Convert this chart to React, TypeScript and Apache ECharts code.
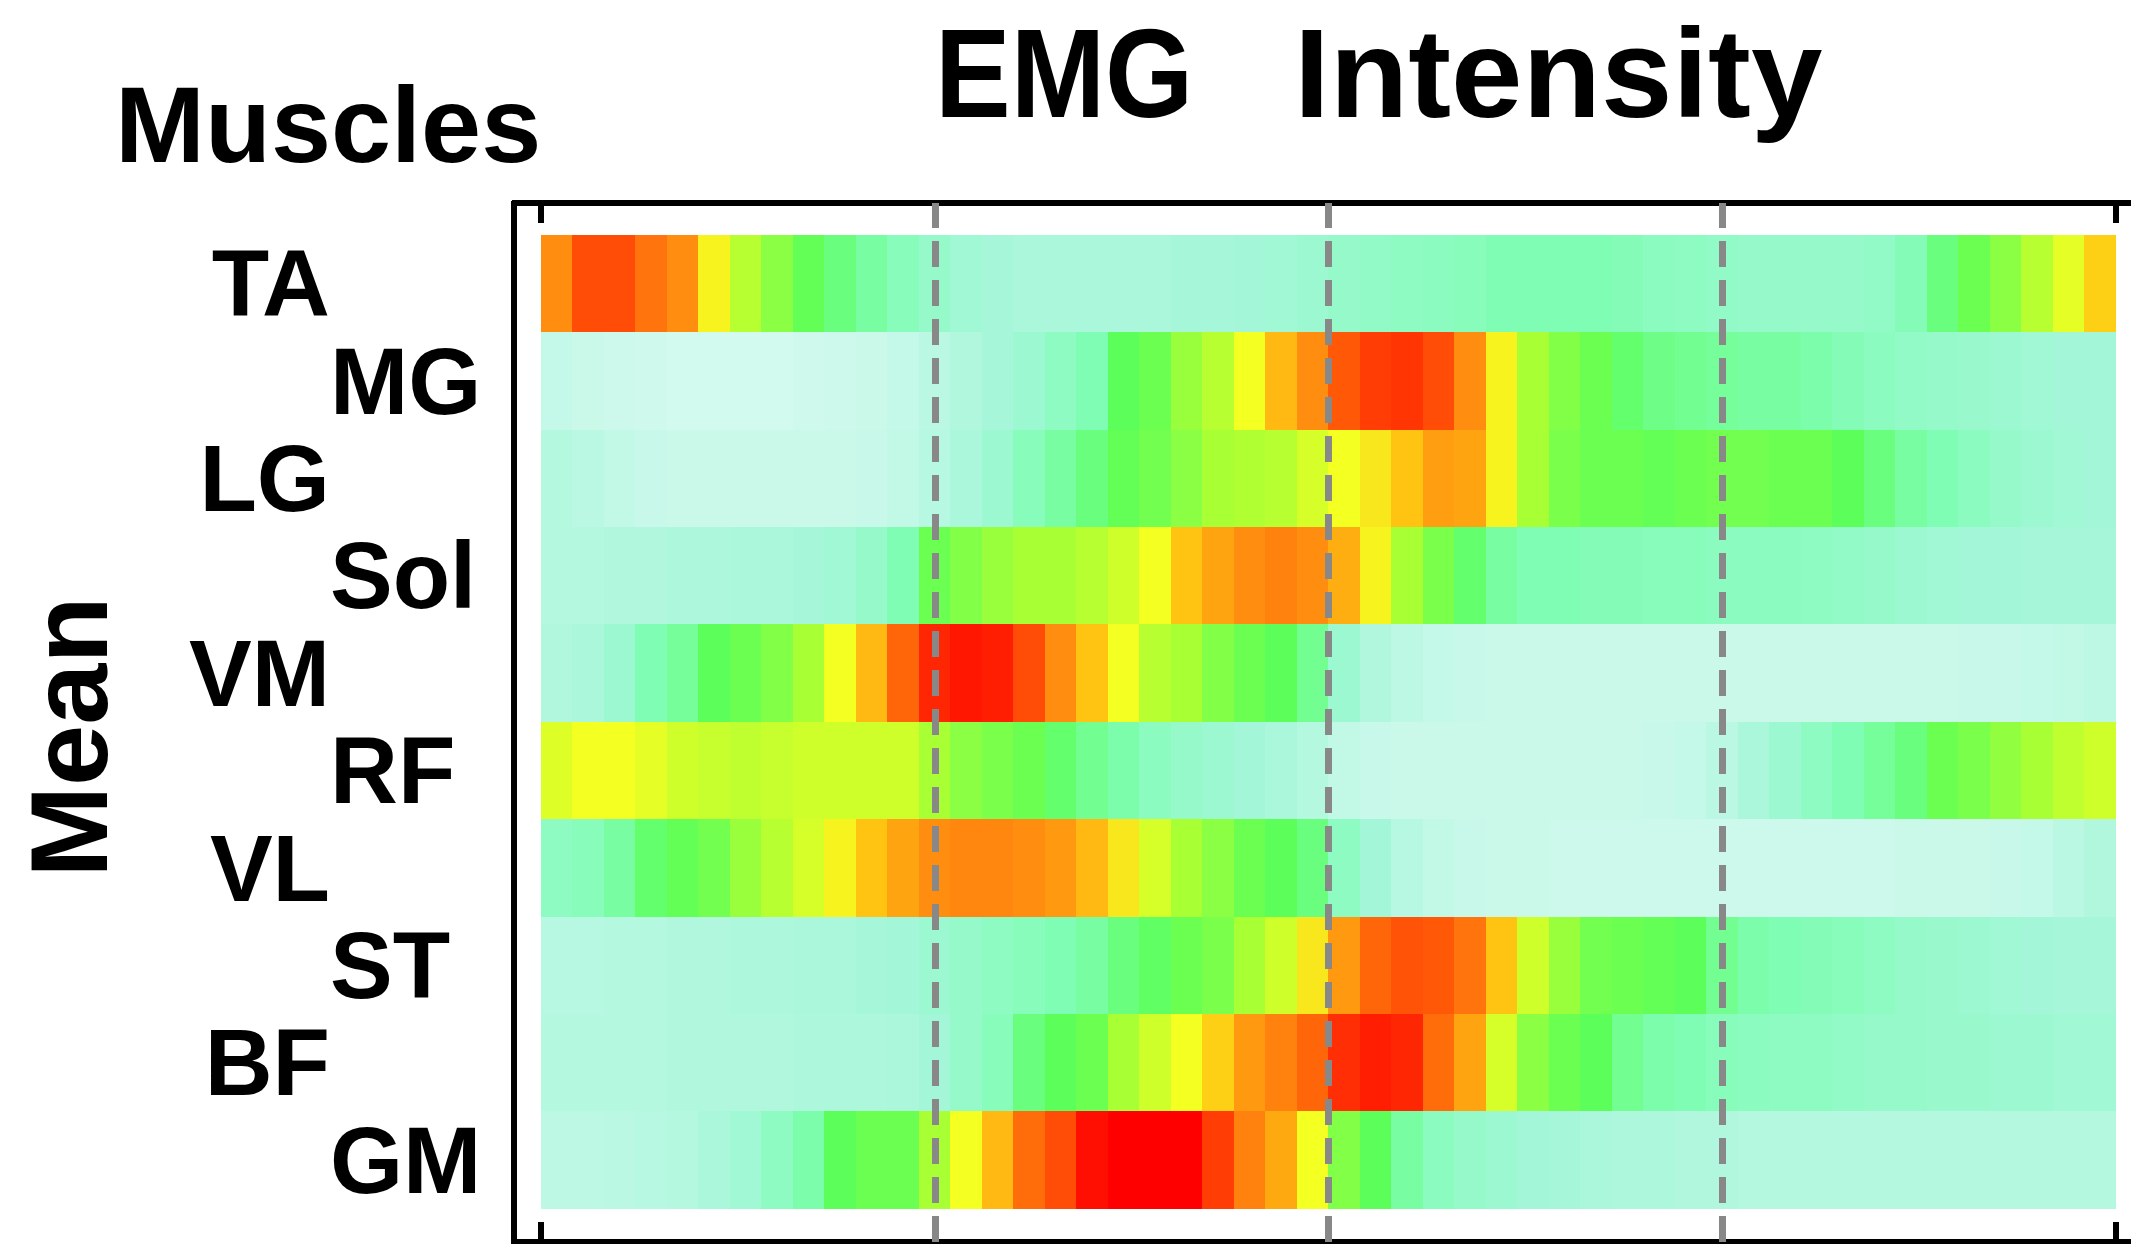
import React, { useEffect, useRef } from "react";
import * as echarts from "echarts";

// ---- data ----
const muscles = ["TA", "MG", "LG", "Sol", "VM", "RF", "VL", "ST", "BF", "GM"];
const cycleTicks = [0, 25, 50, 75, 100];
const phaseLines = [25, 50, 75];
const columnCount = 50;

const ta = [0.80,0.90,0.90,0.84,0.80,0.62,0.52,0.46,0.41,0.36, 0.32,0.28,0.24,0.21,0.19,0.18,0.18,0.18,0.18,0.18, 0.19,0.19,0.20,0.21,0.22,0.24,0.25,0.26,0.27,0.28, 0.30,0.30,0.30,0.30,0.29,0.27,0.26,0.25,0.24,0.24, 0.24,0.24,0.25,0.29,0.36,0.42,0.46,0.52,0.58,0.68];
const mg = [0.10,0.08,0.07,0.06,0.05,0.05,0.05,0.05,0.06,0.07, 0.08,0.10,0.13,0.16,0.19,0.22,0.26,0.30,0.40,0.42, 0.48,0.52,0.60,0.72,0.80,0.88,0.92,0.93,0.90,0.80, 0.62,0.50,0.45,0.42,0.38,0.35,0.34,0.33,0.32,0.32, 0.31,0.29,0.27,0.25,0.24,0.23,0.22,0.21,0.20,0.20];
const lg = [0.15,0.13,0.11,0.09,0.08,0.08,0.08,0.08,0.08,0.08, 0.09,0.11,0.14,0.18,0.22,0.28,0.32,0.36,0.41,0.43, 0.46,0.50,0.51,0.52,0.56,0.60,0.64,0.70,0.77,0.76, 0.62,0.50,0.44,0.42,0.42,0.41,0.42,0.43,0.43,0.42, 0.42,0.40,0.36,0.32,0.30,0.27,0.24,0.22,0.21,0.20];
const sol = [0.15,0.15,0.16,0.16,0.17,0.17,0.18,0.18,0.19,0.21, 0.24,0.30,0.42,0.45,0.48,0.50,0.50,0.52,0.55,0.60, 0.70,0.76,0.80,0.82,0.80,0.74,0.62,0.50,0.44,0.38, 0.32,0.30,0.30,0.29,0.29,0.28,0.28,0.27,0.27,0.27, 0.26,0.25,0.24,0.22,0.21,0.20,0.20,0.19,0.19,0.19];
const vm = [0.16,0.18,0.22,0.30,0.33,0.40,0.42,0.45,0.50,0.60, 0.72,0.86,0.95,0.97,0.96,0.90,0.80,0.70,0.60,0.52, 0.50,0.45,0.42,0.40,0.34,0.22,0.16,0.12,0.10,0.09, 0.08,0.08,0.08,0.08,0.08,0.08,0.08,0.08,0.08,0.08, 0.08,0.08,0.08,0.08,0.08,0.09,0.09,0.10,0.11,0.12];
const rf = [0.57,0.60,0.60,0.58,0.55,0.54,0.53,0.54,0.55,0.55, 0.55,0.55,0.50,0.46,0.44,0.42,0.38,0.34,0.31,0.27, 0.24,0.22,0.20,0.18,0.15,0.11,0.09,0.08,0.08,0.08, 0.08,0.08,0.08,0.08,0.08,0.09,0.10,0.13,0.18,0.22, 0.26,0.30,0.33,0.36,0.42,0.44,0.47,0.50,0.53,0.55];
const vl = [0.26,0.28,0.32,0.38,0.41,0.43,0.48,0.52,0.56,0.62, 0.70,0.76,0.80,0.81,0.81,0.80,0.78,0.72,0.64,0.56, 0.50,0.46,0.42,0.40,0.36,0.26,0.20,0.14,0.11,0.09, 0.08,0.08,0.07,0.07,0.07,0.07,0.07,0.07,0.07,0.07, 0.07,0.07,0.07,0.08,0.08,0.08,0.09,0.10,0.13,0.16];
const st = [0.14,0.14,0.15,0.15,0.16,0.16,0.17,0.17,0.18,0.18, 0.19,0.20,0.22,0.24,0.26,0.28,0.30,0.32,0.36,0.39, 0.42,0.44,0.50,0.55,0.64,0.78,0.86,0.89,0.88,0.84, 0.70,0.55,0.48,0.43,0.42,0.41,0.40,0.34,0.31,0.30, 0.29,0.28,0.26,0.24,0.23,0.22,0.21,0.20,0.19,0.19];
const bf = [0.15,0.15,0.15,0.15,0.16,0.16,0.16,0.16,0.17,0.17, 0.17,0.18,0.20,0.24,0.28,0.36,0.40,0.42,0.50,0.55, 0.60,0.68,0.78,0.82,0.86,0.94,0.96,0.95,0.85,0.76, 0.56,0.46,0.42,0.40,0.34,0.31,0.30,0.28,0.27,0.26, 0.26,0.25,0.24,0.24,0.23,0.23,0.22,0.22,0.21,0.21];
const gm = [0.12,0.12,0.13,0.14,0.15,0.18,0.21,0.26,0.31,0.40, 0.42,0.42,0.50,0.60,0.72,0.85,0.90,0.98,1.00,1.00, 1.00,0.92,0.82,0.75,0.60,0.45,0.40,0.32,0.27,0.24, 0.22,0.20,0.19,0.18,0.17,0.17,0.16,0.16,0.15,0.15, 0.15,0.15,0.15,0.15,0.15,0.15,0.15,0.15,0.15,0.15];

const scaleColors = [
  "#e0fbf4", "#c4f8e8", "#a3f7d8", "#80fdb4", "#5cff5a", "#a8ff34",
  "#f4ff22", "#ffc412", "#ff8e10", "#ff4c06", "#ff0000",
];

// ---- layout (pixels) ----
const PAGE = { width: 2131, height: 1244 };
const PLOT = { left: 541, top: 235, width: 1575, height: 974 };
const FRAME = { left: 514, top: 203, right: 2131, bottom: 1242 };
const FONT = '"Liberation Sans", Arial, Helvetica, sans-serif';

export default function App() {
  const ref = useRef<HTMLDivElement>(null);

  useEffect(() => {
    document.body.style.margin = "0";
    const el = ref.current!;
    const chart = echarts.init(el, null, { renderer: "svg" });

    const rows = [ta, mg, lg, sol, vm, rf, vl, st, bf, gm];
    const data: number[][] = [];
    rows.forEach((row, y) => row.forEach((v, x) => data.push([x, y, v])));
    const columns = Array.from({ length: columnCount }, (_, i) => String(i));

    const span = cycleTicks[cycleTicks.length - 1] - cycleTicks[0];
    const pxPerUnit = PLOT.width / span;
    const fMin = cycleTicks[0] - (PLOT.left - FRAME.left) / pxPerUnit;
    const fMax = cycleTicks[0] + (FRAME.right - PLOT.left) / pxPerUnit;

    const tickAxis = (position: string, offset: number) => ({
      type: "value",
      gridIndex: 0,
      position,
      offset,
      min: cycleTicks[0],
      max: cycleTicks[cycleTicks.length - 1],
      interval: cycleTicks[1] - cycleTicks[0],
      axisLine: { show: false },
      axisTick: { show: true, inside: true, length: 20, lineStyle: { color: "#000", width: 6 } },
      axisLabel: { show: false },
      splitLine: { show: false },
    });

    const frameX = (position: string) => ({
      type: "value",
      gridIndex: 1,
      position,
      min: fMin,
      max: fMax,
      axisLine: { show: true, onZero: false, lineStyle: { color: "#000", width: 6 } },
      axisTick: { show: false },
      axisLabel: { show: false },
      splitLine: { show: false },
    });

    const labelStyle = { fontSize: 94, fontWeight: "bold", fontFamily: FONT, color: "#000" };

    chart.setOption({
      animation: false,
      backgroundColor: "#ffffff",
      grid: [
        { left: PLOT.left, top: PLOT.top, width: PLOT.width, height: PLOT.height },
        {
          left: FRAME.left,
          top: FRAME.top,
          width: FRAME.right - FRAME.left,
          height: FRAME.bottom - FRAME.top,
          show: false,
        },
      ],
      xAxis: [
        { type: "category", gridIndex: 0, position: "bottom", data: columns, show: false },
        tickAxis("top", PLOT.top - FRAME.top),
        tickAxis("bottom", FRAME.bottom - (PLOT.top + PLOT.height)),
        frameX("top"),
        frameX("bottom"),
      ],
      yAxis: [
        {
          type: "category",
          gridIndex: 0,
          position: "left",
          data: muscles,
          inverse: true,
          offset: PLOT.left - FRAME.left,
          axisLine: { show: false },
          axisTick: {
            show: true,
            inside: true,
            alignWithLabel: true,
            length: 24,
            lineStyle: { color: "#000", width: 6 },
          },
          axisLabel: {
            margin: 24,
            formatter: (value: string, index: number) =>
              index % 2 === 0 ? `{r|${value}}` : `{l|${value}}`,
            rich: {
              r: { ...labelStyle, padding: [0, 160, 0, 0] },
              l: { ...labelStyle, width: 160, align: "left" },
            },
          },
          splitLine: { show: false },
        },
        {
          type: "value",
          gridIndex: 1,
          position: "left",
          min: 0,
          max: 1,
          axisLine: { show: true, onZero: false, lineStyle: { color: "#000", width: 6 } },
          axisTick: { show: false },
          axisLabel: { show: false },
          splitLine: { show: false },
        },
      ],
      visualMap: {
        type: "continuous",
        show: false,
        min: 0,
        max: 1,
        dimension: 2,
        seriesIndex: 0,
        inRange: { color: scaleColors },
      },
      series: [
        {
          type: "heatmap",
          xAxisIndex: 0,
          yAxisIndex: 0,
          data,
          itemStyle: { borderWidth: 0 },
          emphasis: { disabled: true },
          progressive: 0,
          z: 2,
        },
        {
          type: "line",
          xAxisIndex: 3,
          yAxisIndex: 1,
          data: [],
          silent: true,
          z: 5,
          markLine: {
            silent: true,
            symbol: ["none", "none"],
            label: { show: false },
            lineStyle: { color: "#888888", width: 7, type: [26, 13] },
            data: phaseLines.map((v) => ({ xAxis: v })),
          },
        },
      ],
      graphic: [
        {
          type: "text",
          x: 935,
          y: 73,
          scaleX: 0.9,
          style: {
            text: "EMG",
            fontSize: 126,
            fontWeight: "bold",
            fontFamily: FONT,
            fill: "#000",
            align: "left",
            verticalAlign: "middle",
          },
        },
        {
          type: "text",
          x: 1294,
          y: 73,
          scaleX: 1.02,
          style: {
            text: "Intensity",
            fontSize: 126,
            fontWeight: "bold",
            fontFamily: FONT,
            fill: "#000",
            align: "left",
            verticalAlign: "middle",
          },
        },
        {
          type: "text",
          x: 115,
          y: 124,
          style: {
            text: "Muscles",
            fontSize: 108,
            fontWeight: "bold",
            fontFamily: FONT,
            fill: "#000",
            align: "left",
            verticalAlign: "middle",
          },
        },
        {
          type: "text",
          x: 68,
          y: 737,
          rotation: Math.PI / 2,
          style: {
            text: "Mean",
            fontSize: 110,
            fontWeight: "bold",
            fontFamily: FONT,
            fill: "#000",
            align: "center",
            verticalAlign: "middle",
          },
        },
      ],
    });

    return () => chart.dispose();
  }, []);

  return (
    <>
      <style>{`.emg-chart svg path { shape-rendering: crispEdges; }`}</style>
      <div className="emg-chart" ref={ref} style={{ width: PAGE.width, height: PAGE.height }} />
    </>
  );
}
